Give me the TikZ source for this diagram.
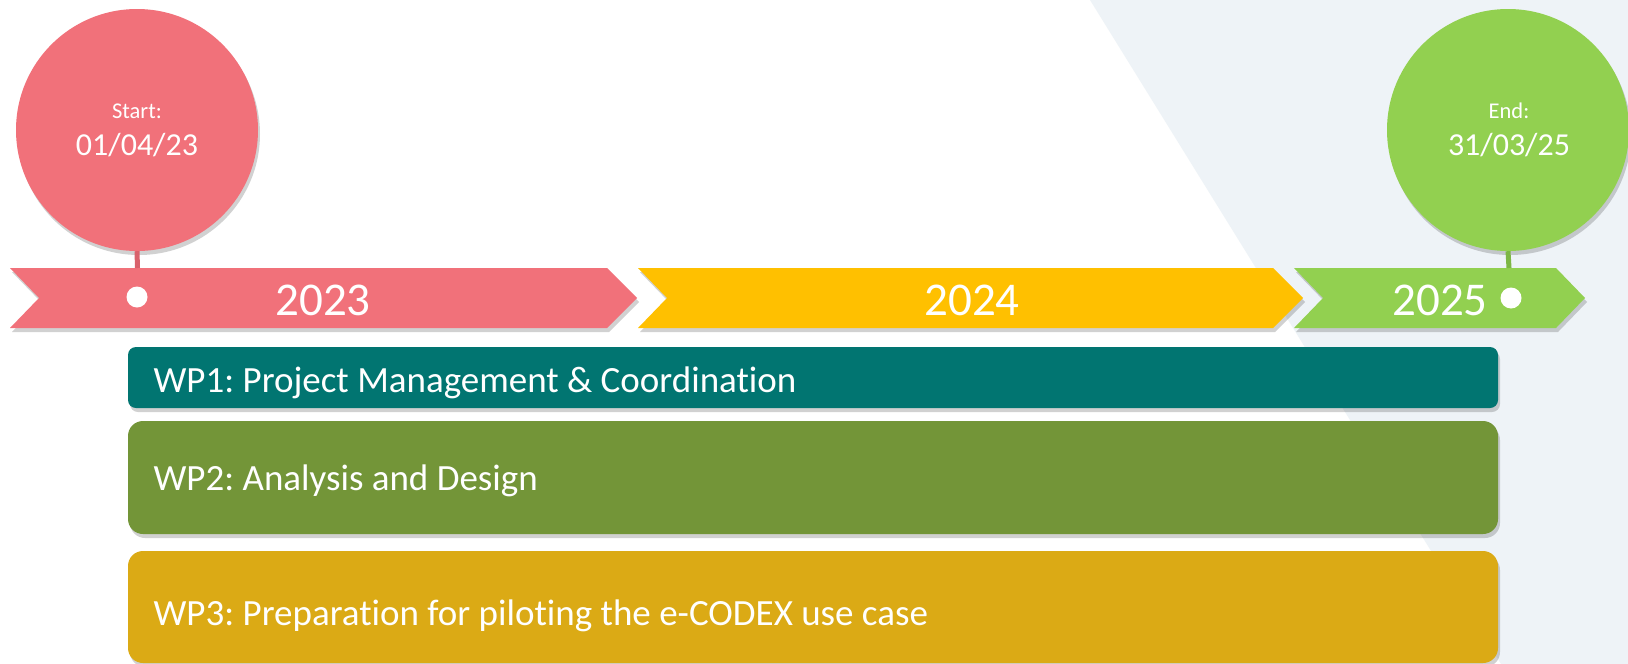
\documentclass[tikz,border=0pt]{standalone}
\usepackage{fontspec}
\setmainfont{Carlito}[Ligatures={NoCommon,NoRequired,NoContextual}]
\frenchspacing
\usetikzlibrary{shadows}
\definecolor{pinkc}{HTML}{F1717A}
\definecolor{pinkstem}{HTML}{D9626C}
\definecolor{yellowc}{HTML}{FFC000}
\definecolor{greenc}{HTML}{92D050}
\definecolor{greenstem}{HTML}{7DB745}
\definecolor{tealc}{HTML}{017571}
\definecolor{olivec}{HTML}{739538}
\definecolor{goldc}{HTML}{DBAA15}
\definecolor{bgc}{HTML}{EEF3F7}
\tikzset{
  shd/.style={drop shadow={shadow xshift=2pt,shadow yshift=-4pt,opacity=0.18,fill=black}},
  milestone/.style={circle,minimum size=242pt,inner sep=0pt,shd},
  yeartxt/.style={text=white,font=\fontsize{47}{47}\selectfont,anchor=base},
  smalltxt/.style={text=white,font=\fontsize{22.5}{22.5}\selectfont,anchor=base},
  datetxt/.style={text=white,font=\fontsize{32}{32}\selectfont,anchor=base},
  wptxt/.style={text=white,font=\fontsize{37}{37}\selectfont,anchor=base west},
  dotc/.style={circle,fill=white,minimum size=21pt,inner sep=0pt},
  stemline/.style={line width=5pt},
}
\begin{document}
\begin{tikzpicture}[x=1pt,y=-1pt]
\useasboundingbox (0,0) rectangle (1628,664);
\clip (0,0) rectangle (1628,664);
\fill[white] (0,0) rectangle (1628,664);
\fill[bgc] (1090,0) -- (1628,0) -- (1628,664) -- (1501,664) -- cycle;
% bands
\fill[pinkc,shd] (10,268) -- (607,268) -- (637,298) -- (607,328) -- (10,328) -- (39,298) -- cycle;
\fill[yellowc,shd] (638,268) -- (1273,268) -- (1303,298) -- (1273,328) -- (638,328) -- (667,298) -- cycle;
\fill[greenc,shd] (1294,268) -- (1556,268) -- (1585,298) -- (1556,328) -- (1294,328) -- (1323,298) -- cycle;
\node[yeartxt] (y2023) at (323,315) {2023};
\node[yeartxt] (y2024) at (972,315) {2024};
\node[yeartxt] (y2025) at (1440,315) {2025};
% milestones
\node[milestone,fill=pinkc] (startc) at (137,130) {};
\node[milestone,fill=greenc] (endc) at (1508,130) {};
\coordinate (startbase) at (137.5,268);
\coordinate (endbase) at (1509,268);
\draw[stemline,pinkstem] (startc.south) -- (startbase);
\draw[stemline,greenstem] (endc.south) -- (endbase);
\node[dotc] (startdot) at (137,297) {};
\node[dotc] (enddot) at (1511,298) {};
\node[smalltxt] (startlbl) at (137,118) {Start:};
\node[datetxt] (startdate) at (137,155) {01/04/23};
\node[smalltxt] (endlbl) at (1509,118) {End:};
\node[datetxt] (enddate) at (1509,155) {31/03/25};
% work packages
\fill[tealc,shd,rounded corners=8pt] (128,347) rectangle (1498,408);
\fill[olivec,shd,rounded corners=15pt] (128,421) rectangle (1498,534);
\fill[goldc,shd,rounded corners=15pt] (128,551) rectangle (1498,663);
\node[wptxt] (wp1) at (150,392) {WP1: Project Management \& Coordination};
\node[wptxt] (wp2) at (150,490) {WP2: Analysis and Design};
\node[wptxt] (wp3) at (150,625) {WP3: Preparation for piloting the e-CODEX use case};
\end{tikzpicture}
\end{document}
